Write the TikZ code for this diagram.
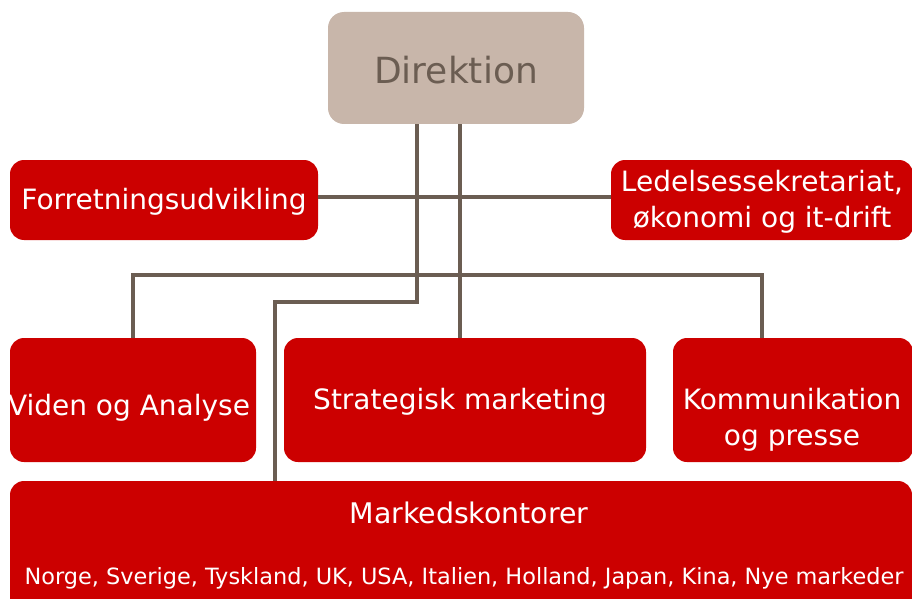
\documentclass[tikz,border=0pt]{standalone}
\usepackage{fontspec}
\setmainfont{DejaVu Sans}
\usetikzlibrary{positioning}

\definecolor{dirfill}{HTML}{C8B6AA}
\definecolor{linegray}{HTML}{6B5D52}
\definecolor{boxred}{HTML}{CC0000}

\begin{document}
\begin{tikzpicture}[x=1pt, y=-1pt,
	unit/.style={rectangle, rounded corners=14pt, fill=boxred, text=white, align=center, inner sep=0pt, font=\fontsize{28}{36}\selectfont},
	top/.style={rectangle, rounded corners=16pt, fill=dirfill, text=linegray, inner sep=0pt, font=\fontsize{36}{40}\selectfont},
	link/.style={draw=linegray, line width=4pt}]
	\useasboundingbox (0,0) rectangle (912,599);

	% Nodes {Direktion, staff, units, Markedskontorer}
	\node [top, minimum width=256pt, minimum height=112pt] 	(dir) at (456,68)  {};
	\node [unit, minimum width=308pt, minimum height=80pt] 	(forr) at (164,200) {};
	\node [unit, minimum width=302pt, minimum height=80pt] 	(led) at (762,200) {};
	\node [unit, minimum width=246pt, minimum height=124pt] (viden) at (133,400) {};
	\node [unit, minimum width=362pt, minimum height=124pt] (strat) at (465,400) {};
	\node [unit, minimum width=240pt, minimum height=124pt] (komm) at (793,400) {};
	\node [unit, minimum width=902pt, minimum height=130pt] (mk) at (461,546) {};

	% Texts inside the boxes
	\node [top, fill=none] (dirtxt) at (456,70) {Direktion};
	\node [unit, fill=none] (forrtxt) at (164,202) {Forretningsudvikling};
	\node [unit, fill=none] (ledtxt) at (762,202) {Ledelsessekretariat,\\ økonomi og it-drift};
	\node [unit, fill=none] (videntxt) at (129,408) {Viden og Analyse};
	\node [unit, fill=none] (strattxt) at (460,402) {Strategisk marketing};
	\node [unit, fill=none] (kommtxt) at (792,420) {Kommunikation\\og presse};
	\node [unit, fill=none, font=\fontsize{28.4}{30}\selectfont] (mktxt) at (469,513) {Markedskontorer};
	\node [unit, fill=none, font=\fontsize{22.4}{24}\selectfont] (lande) at (464,578) {Norge, Sverige, Tyskland, UK, USA, Italien, Holland, Japan, Kina, Nye markeder};

	% Paths
	\path [link] ([xshift=-39pt]dir.south) |- ([yshift=179pt]mk.north -| 275,0) -- (mk.north -| 275,0);
	\path [link] ([xshift=4pt]dir.south) -- ([xshift=4pt]dir.south |- strat.north);
	\path [link] ([yshift=3pt]forr.east) -- ([yshift=3pt]led.west);
	\path [link] (viden.north) |- ([yshift=63pt]viden.north -| led.south) -- (led.south |- komm.north);
\end{tikzpicture}
\end{document}
